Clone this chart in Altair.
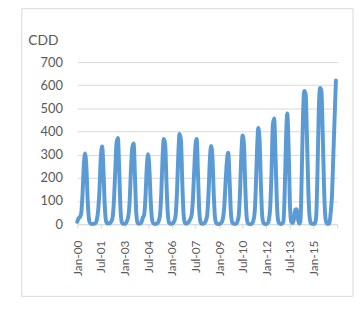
import altair as alt
import pandas as pd

# Monthly CDD values, Jan..Dec per year
y2000 = [10, 25, 30, 45, 120, 250, 305, 245, 100, 20, 3, 1]
y2001 = [1, 2, 5, 20, 60, 150, 290, 335, 230, 80, 12, 3]
y2002 = [4, 5, 12, 30, 100, 230, 350, 372, 230, 65, 8, 2]
y2003 = [2, 4, 14, 35, 100, 240, 330, 348, 205, 50, 6, 2]
y2004 = [3, 10, 28, 40, 115, 245, 302, 235, 95, 20, 3, 1]
y2005 = [2, 4, 12, 35, 125, 285, 368, 345, 175, 45, 6, 2]
y2006 = [3, 5, 14, 40, 135, 300, 390, 365, 185, 45, 6, 2]
y2007 = [5, 10, 20, 35, 90, 215, 330, 368, 215, 55, 8, 2]
y2008 = [3, 5, 15, 40, 130, 275, 338, 285, 125, 25, 4, 1]
y2009 = [1, 3, 8, 25, 75, 180, 270, 308, 195, 55, 8, 2]
y2010 = [1, 2, 10, 35, 135, 300, 383, 345, 160, 35, 4, 1]
y2011 = [0, 2, 12, 40, 145, 325, 415, 350, 150, 30, 4, 1]
y2012 = [1, 3, 18, 75, 225, 430, 456, 300, 100, 15, 3, 1]
y2013 = [2, 12, 130, 360, 478, 330, 90, 10, 5, 20, 62, 65]
y2014 = [25, 3, 10, 210, 470, 575, 560, 370, 145, 30, 3, 1]
y2015 = [3, 2, 30, 220, 490, 588, 575, 390, 155, 30, 4, 1]
y2016 = [3, 50, 120, 287, 453, 620]

start_month = "2000-01-01"
axis_end = "2016-07-01"
tick_dates = ["2000-01-01", "2001-07-01", "2003-01-01", "2004-07-01",
              "2006-01-01", "2007-07-01", "2009-01-01", "2010-07-01",
              "2012-01-01", "2013-07-01", "2015-01-01", "2016-07-01"]

values = (y2000 + y2001 + y2002 + y2003 + y2004 + y2005 + y2006 + y2007 +
          y2008 + y2009 + y2010 + y2011 + y2012 + y2013 + y2014 + y2015 + y2016)
dates = pd.date_range(start_month, periods=len(values), freq="MS")
to_ms = lambda d: int(pd.Timestamp(d).value // 10**6)
df = pd.DataFrame({"t": [to_ms(d) for d in dates], "cdd": values})

tick_ms = [to_ms(d) for d in tick_dates]
end_ms = to_ms(axis_end)

grey_text = "#595959"
grid_col = "#D9D9D9"

line = alt.Chart(df).mark_line(
    color="#5B9BD5", strokeWidth=4, interpolate="monotone",
    strokeCap="round", strokeJoin="round"
).encode(
    x=alt.X("t:T",
            scale=alt.Scale(type="utc", domain=[to_ms(start_month), end_ms]),
            axis=alt.Axis(values=tick_ms, title=None,
                          labelExpr=f"datum.value >= {end_ms} ? '' : utcFormat(datum.value, '%b-%y')",
                          labelAngle=270, labelAlign="right", labelBaseline="middle",
                          labelPadding=12, labelFontSize=12, labelColor=grey_text,
                          labelFont="Lato", labelOverlap=False, labelFlush=False,
                          grid=False, domainColor=grid_col, tickColor=grid_col,
                          tickSize=4, domainWidth=1)),
    y=alt.Y("cdd:Q",
            scale=alt.Scale(domain=[0, 700], nice=False),
            axis=alt.Axis(values=[0, 100, 200, 300, 400, 500, 600, 700],
                          title="CDD", titleAngle=0, titleAlign="left",
                          titleBaseline="alphabetic", titleX=-50, titleY=-18,
                          titleFont="Lato", titleFontSize=14, titleFontWeight="normal",
                          titleColor=grey_text,
                          labelFont="Lato", labelFontSize=13, labelColor=grey_text,
                          labelPadding=15, domain=False, ticks=False,
                          grid=True, gridColor=grid_col, gridWidth=1))
)

border = alt.Chart(pd.DataFrame({"a": [0]})).mark_rect(
    fill=None, stroke=grid_col, strokeWidth=1
).encode(
    x=alt.value(-56), x2=alt.value(279), y=alt.value(-54), y2=alt.value(237)
)

chart = alt.layer(border, line).properties(
    width=263, height=164,
    autosize=alt.AutoSizeParams(type="none"),
    padding={"left": 70, "top": 53, "right": 17, "bottom": 74},
    background="white",
).configure_view(stroke=None)

chart.save("out.html", embed_options={"renderer": "svg", "actions": False})
